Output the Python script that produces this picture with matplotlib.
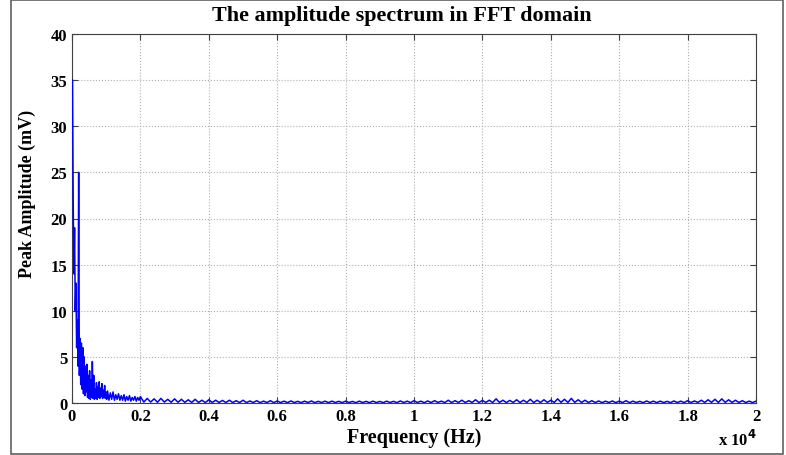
import numpy as np
import matplotlib
matplotlib.use("Agg")
import matplotlib.pyplot as plt
from matplotlib.patches import Rectangle

plt.rcParams['font.family'] = ['Liberation Serif', 'DejaVu Serif']
plt.rcParams['font.weight'] = 'bold'

# FFT bins (Hz / mV)
# segment 1: 15..1015 Hz, every 20 Hz
seg1_start, seg1_step = 15, 20
seg1_amp = [35, 22, 14, 19, 10, 13, 6, 9, 4, 25,
            3, 7, 2, 6.5, 1.5, 6, 1, 5, 0.8, 4,
            1.2, 4.2, 0.6, 3, 0.5, 3.5, 0.4, 2.5, 0.6, 4.5,
            0.5, 3, 0.4, 1.5, 0.5, 2.2, 0.4, 1.8, 0.6, 2.3,
            0.5, 1.6, 0.7, 2.1, 0.5, 1.4, 0.6, 1.9, 0.5, 1.2,
            0.4]
# segment 2: 1040..2000 Hz, every 40 Hz
seg2_start, seg2_step = 1040, 40
seg2_amp = [1.3, 0.3, 1.1, 0.4, 1.2, 0.3, 0.9, 0.4, 1.0, 0.3,
            0.8, 0.3, 0.9, 0.2, 0.7, 0.3, 0.8, 0.2, 0.6, 0.3,
            0.7, 0.2, 0.6, 0.3, 0.7]
# segment 3: 2100..20000 Hz, every 100 Hz
seg3_start, seg3_step = 2100, 100
seg3_amp = [0.1, 0.5, 0.1, 0.45, 0.08, 0.5, 0.1, 0.4, 0.08, 0.45,
            0.08, 0.4, 0.07, 0.35, 0.06, 0.4, 0.06, 0.3, 0.05, 0.35,
            0.05, 0.3, 0.06, 0.28, 0.05, 0.3, 0.05, 0.25, 0.05, 0.3,
            0.04, 0.22, 0.05, 0.25, 0.04, 0.2, 0.05, 0.25, 0.04, 0.22,
            0.05, 0.2, 0.04, 0.22, 0.05, 0.18, 0.04, 0.2, 0.05, 0.22,
            0.04, 0.18, 0.05, 0.2, 0.04, 0.2, 0.05, 0.18, 0.04, 0.2,
            0.05, 0.17, 0.04, 0.2, 0.05, 0.18, 0.04, 0.2, 0.05, 0.17,
            0.04, 0.2, 0.05, 0.18, 0.04, 0.22, 0.05, 0.2, 0.04, 0.25,
            0.05, 0.2, 0.04, 0.22, 0.05, 0.25, 0.06, 0.2, 0.05, 0.3,
            0.05, 0.25, 0.06, 0.3, 0.05, 0.25, 0.06, 0.35, 0.05, 0.28,
            0.06, 0.3, 0.05, 0.45, 0.06, 0.3, 0.05, 0.28, 0.06, 0.35,
            0.05, 0.3, 0.06, 0.4, 0.05, 0.3, 0.06, 0.35, 0.07, 0.3,
            0.06, 0.45, 0.07, 0.4, 0.06, 0.5, 0.07, 0.35, 0.06, 0.3,
            0.05, 0.25, 0.05, 0.22, 0.04, 0.2, 0.05, 0.22, 0.04, 0.2,
            0.05, 0.25, 0.04, 0.2, 0.05, 0.18, 0.04, 0.22, 0.05, 0.2,
            0.04, 0.2, 0.05, 0.18, 0.04, 0.22, 0.05, 0.2, 0.05, 0.25,
            0.05, 0.22, 0.06, 0.3, 0.06, 0.35, 0.07, 0.4, 0.06, 0.45,
            0.07, 0.35, 0.06, 0.3, 0.05, 0.25, 0.05, 0.2, 0.05, 0.2]

x_ticks = [0, 2000, 4000, 6000, 8000, 10000, 12000, 14000, 16000, 18000, 20000]
x_tick_labels = ['0', '0.2', '0.4', '0.6', '0.8', '1', '1.2', '1.4', '1.6', '1.8', '2']
y_ticks = [0, 5, 10, 15, 20, 25, 30, 35, 40]

freq = np.concatenate([
    seg1_start + seg1_step * np.arange(len(seg1_amp)),
    seg2_start + seg2_step * np.arange(len(seg2_amp)),
    seg3_start + seg3_step * np.arange(len(seg3_amp)),
])
amp = np.array(seg1_amp + seg2_amp + seg3_amp)

fig = plt.figure(figsize=(7.86, 4.56), dpi=100)
ax = fig.add_axes([72 / 786, 52 / 456, 684 / 786, 369 / 456])

# draw above the spines so the spike at the left edge stays visible
ax.plot(freq, amp, color='#0000ff', linewidth=1.1, zorder=3)

ax.set_xlim(0, 20000)
ax.set_ylim(0, 40)
ax.set_xticks(x_ticks)
ax.set_xticklabels(x_tick_labels)
ax.set_yticks(y_ticks)
ax.grid(True, linestyle=':', color='#b0b0b0', linewidth=0.8)
ax.tick_params(direction='in', top=True, right=True, labelsize=12, length=4,
               color='#404040')
for lbl in ax.get_xticklabels() + ax.get_yticklabels():
    lbl.set_fontweight('bold')
for sp in ax.spines.values():
    sp.set_color('#404040')
    sp.set_linewidth(0.8)

ax.set_xlabel('Frequency (Hz)', fontsize=14.5, fontweight='bold', labelpad=2)
ax.set_ylabel('Peak Amplitude (mV)', fontsize=13, fontweight='bold')
ax.yaxis.set_label_coords(-0.052, 0.569)
fig.text(402 / 786, 1 - 16 / 456, 'The amplitude spectrum in FFT domain',
         ha='center', va='center', fontsize=15.8, fontweight='bold')
fig.text(737 / 786, 1 - 440 / 456, r'x 10$^{\mathbf{4}}$', ha='center', va='center',
         fontsize=12, fontweight='bold')

# outer frame
fig.patches.append(Rectangle((11 / 786, 1 / 456), 772 / 786, 454 / 456,
                             transform=fig.transFigure, fill=False,
                             edgecolor='#606060', linewidth=1.2))

fig.savefig('out.png', dpi=100)
